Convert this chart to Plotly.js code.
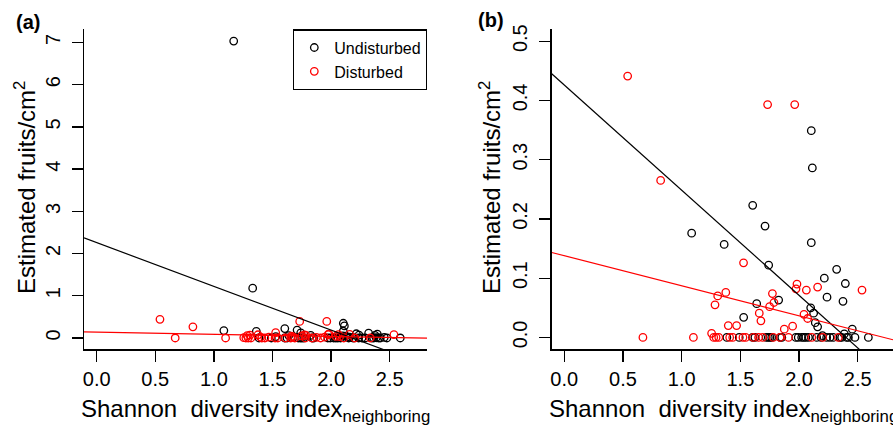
<!DOCTYPE html>
<html>
<head>
<meta charset="utf-8">
<script src="https://cdn.plot.ly/plotly-3.0.1.min.js"></script>
<style>html,body{margin:0;padding:0;background:#fff;}#chart{width:893px;height:428px;}</style>
</head>
<body>
<div id="chart"></div>
<script>
// ---- Data ----
// Undisturbed sites (black)
const undistX = [1.169, 1.331, 2.104, 2.113, 1.605, 1.710, 1.085, 1.362, 2.104, 1.741,
  2.320, 2.215, 2.394, 2.238, 2.374, 1.826, 1.639, 2.099, 2.124, 1.528,
  2.138, 2.158, 2.453, 2.385, 2.199,
  1.385, 1.490, 1.604, 1.624, 1.720, 1.738, 1.752, 1.767, 1.839, 1.853,
  1.972, 1.993, 2.022, 2.040, 2.057, 2.080, 2.150, 2.187, 2.235, 2.263,
  2.291, 2.348, 2.363, 2.405, 2.420, 2.476, 2.590];
const undistY = [7.03, 1.18, 0.349, 0.286, 0.223, 0.188, 0.176, 0.157, 0.160, 0.122,
  0.115, 0.100, 0.091, 0.068, 0.061, 0.063, 0.057, 0.050, 0.041, 0.034,
  0.025, 0.018, 0.014, 0.006, 0.003,
  0, 0, 0, 0, 0, 0, 0, 0, 0, 0,
  0, 0, 0, 0, 0, 0, 0, 0, 0, 0,
  0, 0, 0, 0, 0, 0, 0];
// Disturbed sites (red)
const distX = [0.540, 0.821, 1.732, 1.963, 1.527, 1.376, 1.307, 1.284, 1.773, 1.786,
  1.749, 1.661, 1.675, 1.468, 1.397, 1.255, 1.982, 1.974, 2.062, 2.158,
  2.536, 2.042, 2.073, 1.945, 1.874,
  0.670, 1.100, 1.273, 1.293, 1.316, 1.409, 1.435, 1.522, 1.545, 1.610,
  1.655, 1.690, 1.780, 1.837, 1.910, 2.108, 2.201, 2.334];
const distY = [0.441, 0.265, 0.393, 0.393, 0.126, 0.076, 0.070, 0.055, 0.074, 0.059,
  0.052, 0.041, 0.028, 0.020, 0.020, 0.007, 0.090, 0.082, 0.080, 0.085,
  0.080, 0.039, 0.032, 0.019, 0.014,
  0, 0, 0, 0, 0, 0, 0, 0, 0, 0,
  0, 0, 0, 0, 0, 0, 0, 0];
// Fitted lines: [intercept, slope]
const fitUndistA = [2.258, -1.035];
const fitUndistB = [0.426, -0.1775];
const fitDist = [0.138, -0.0507];
// Axis tick values
const yTicksA = [0, 1, 2, 3, 4, 5, 6, 7];
const yTicksB = [0.0, 0.1, 0.2, 0.3, 0.4, 0.5];
const xTicks = [0.0, 0.5, 1.0, 1.5, 2.0, 2.5];
const seriesNames = ['Undisturbed', 'Disturbed'];
const panelLabels = ['(a)', '(b)'];

// ---- Layout constants ----
const W = 893, H = 428;
const FONT = 'Liberation Sans, Arial, Helvetica, sans-serif';
const xRangeA = [-0.108, 2.818];
const xRangeB = [-0.107, 2.800];
const yRangeA = [-0.268, 7.31];
const yRangeB = [-0.02, 0.52];
const yDom = [1 - 349.3 / H, 1 - 29.3 / H];
const xDomA = [84 / W, 427 / W];
const xDomB = [551.7 / W, 1];

function lineTrace(fit, xr, color, xa, ya) {
  const xs = [xr[0], xr[1]];
  return {x: xs, y: xs.map(v => fit[0] + fit[1] * v), mode: 'lines', type: 'scatter',
    line: {color: color, width: 1.2}, xaxis: xa, yaxis: ya, showlegend: false, hoverinfo: 'skip'};
}
function pts(x, y, color, name, xa, ya, show) {
  return {x: x, y: y, mode: 'markers', type: 'scatter', name: name, xaxis: xa, yaxis: ya,
    showlegend: show, legendgroup: name,
    marker: {symbol: 'circle-open', size: 7.5, color: color, line: {color: color, width: 1.3}}};
}

const traces = [
  pts(undistX, undistY, 'black', seriesNames[0], 'x', 'y', true),
  pts(distX, distY, 'red', seriesNames[1], 'x', 'y', true),
  lineTrace(fitUndistA, xRangeA, 'black', 'x', 'y'),
  lineTrace(fitDist, xRangeA, 'red', 'x', 'y'),
  pts(undistX, undistY, 'black', seriesNames[0], 'x2', 'y2', false),
  pts(distX, distY, 'red', seriesNames[1], 'x2', 'y2', false),
  lineTrace(fitUndistB, xRangeB, 'black', 'x2', 'y2'),
  lineTrace(fitDist, xRangeB, 'red', 'x2', 'y2')
];

function xAxis(dom, range, anchor) {
  return {domain: dom, range: range, anchor: anchor, showgrid: false, zeroline: false,
    showline: true, linecolor: 'black', linewidth: 1.3, mirror: false,
    ticks: 'outside', ticklen: 11, tickwidth: 1.3, tickcolor: 'black',
    tickvals: xTicks, tickformat: '.1f', tickfont: {family: FONT, size: 20, color: 'black'}};
}
function yAxis(dom, range, anchor, tv, fmt) {
  return {domain: dom, range: range, anchor: anchor, showgrid: false, zeroline: false,
    showline: true, linecolor: 'black', linewidth: 1.3, mirror: false,
    ticks: 'outside', ticklen: 11, tickwidth: 1.3, tickcolor: 'black',
    tickvals: tv, tickformat: fmt, tickangle: -90, ticklabelstandoff: 4,
    tickfont: {family: FONT, size: 20, color: 'black'}};
}

const xTitle = 'Shannon&nbsp; diversity index<sub>neighboring</sub>';
const yTitle = 'Estimated fruits/cm<sup>2</sup>';
function ann(text, px, py, size, angle, bold) {
  return {text: bold ? '<b>' + text + '</b>' : text, x: px / W, y: 1 - py / H, xref: 'paper', yref: 'paper',
    xanchor: 'center', yanchor: 'middle', showarrow: false, textangle: angle || 0,
    font: {family: FONT, size: size, color: 'black'}};
}

const layout = {
  width: W, height: H, margin: {l: 0, r: 0, t: 0, b: 0},
  paper_bgcolor: 'white', plot_bgcolor: 'white',
  xaxis: xAxis(xDomA, xRangeA, 'y'),
  yaxis: yAxis(yDom, yRangeA, 'x', yTicksA, 'd'),
  xaxis2: xAxis(xDomB, xRangeB, 'y2'),
  yaxis2: yAxis(yDom, yRangeB, 'x2', yTicksB, '.1f'),
  showlegend: true,
  legend: {x: 427 / W, y: 1 - 29.3 / H, xanchor: 'right', yanchor: 'top',
    bordercolor: 'black', borderwidth: 1.3, bgcolor: 'white', itemwidth: 30,
    font: {family: FONT, size: 16, color: 'black'}, tracegroupgap: 0},
  annotations: [
    ann(panelLabels[0], 28, 22, 20, 0, true),
    ann(panelLabels[1], 491, 20, 20, 0, true),
    ann(yTitle, 25, 188, 24, -90),
    ann(yTitle, 490, 188, 24, -90),
    ann(xTitle, 255.5, 410, 24, 0),
    ann(xTitle, 723, 410, 24, 0)
  ]
};

Plotly.newPlot('chart', traces, layout, {displayModeBar: false, staticPlot: true});
</script>
</body>
</html>
